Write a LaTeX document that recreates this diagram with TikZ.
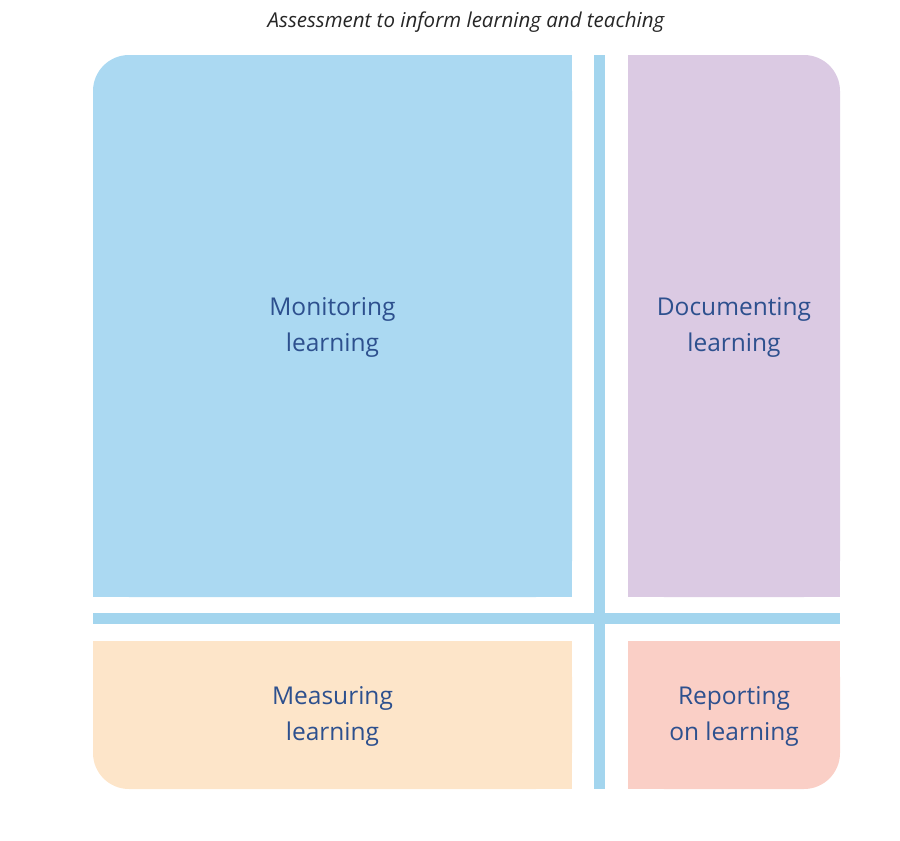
\documentclass[tikz,border=0pt]{standalone}
\usepackage{fontspec}
\setmainfont{Open Sans}
\definecolor{boxblue}{RGB}{171,217,242}
\definecolor{barblue}{RGB}{163,213,238}
\definecolor{boxpurple}{RGB}{219,202,227}
\definecolor{boxorange}{RGB}{253,229,201}
\definecolor{boxpink}{RGB}{250,207,198}
\definecolor{txtblue}{RGB}{45,80,142}
\tikzset{
  lbl/.style={align=center, text=txtblue, font=\fontsize{24.5}{36}\selectfont, inner sep=0pt},
}
\begin{document}
\begin{tikzpicture}[x=1pt,y=-1pt]
\useasboundingbox (0,0) rectangle (900,841);
% blue box (top-left rounded)
\fill[boxblue,rounded corners=36pt] (93,55) rectangle (572,597);
\fill[boxblue] (140,55) rectangle (572,597);
\fill[boxblue] (93,100) rectangle (572,597);
% purple box (top-right rounded)
\fill[boxpurple,rounded corners=36pt] (628,55) rectangle (840,597);
\fill[boxpurple] (628,55) rectangle (790,597);
\fill[boxpurple] (628,100) rectangle (840,597);
% orange box (bottom-left rounded)
\fill[boxorange,rounded corners=36pt] (93,641) rectangle (572,789);
\fill[boxorange] (140,641) rectangle (572,789);
\fill[boxorange] (93,641) rectangle (572,740);
% pink box (bottom-right rounded)
\fill[boxpink,rounded corners=36pt] (628,641) rectangle (840,789);
\fill[boxpink] (628,641) rectangle (790,789);
\fill[boxpink] (628,641) rectangle (840,740);
% bars
\fill[barblue] (594,55) rectangle (605,789);
\fill[barblue] (93,613) rectangle (840,624);
% texts
\node[font=\fontsize{20.5}{22}\selectfont\itshape, text=black!85, inner sep=0pt] (title) at (466,22) {Assessment to inform learning and teaching};
\node[lbl] (mon) at (332.5,327) {Monitoring\\learning};
\node[lbl] (doc) at (734,327) {Documenting\\learning};
\node[lbl] (mea) at (332.5,716) {Measuring\\learning};
\node[lbl] (rep) at (734,716) {Reporting\\on learning};
\end{tikzpicture}
\end{document}
